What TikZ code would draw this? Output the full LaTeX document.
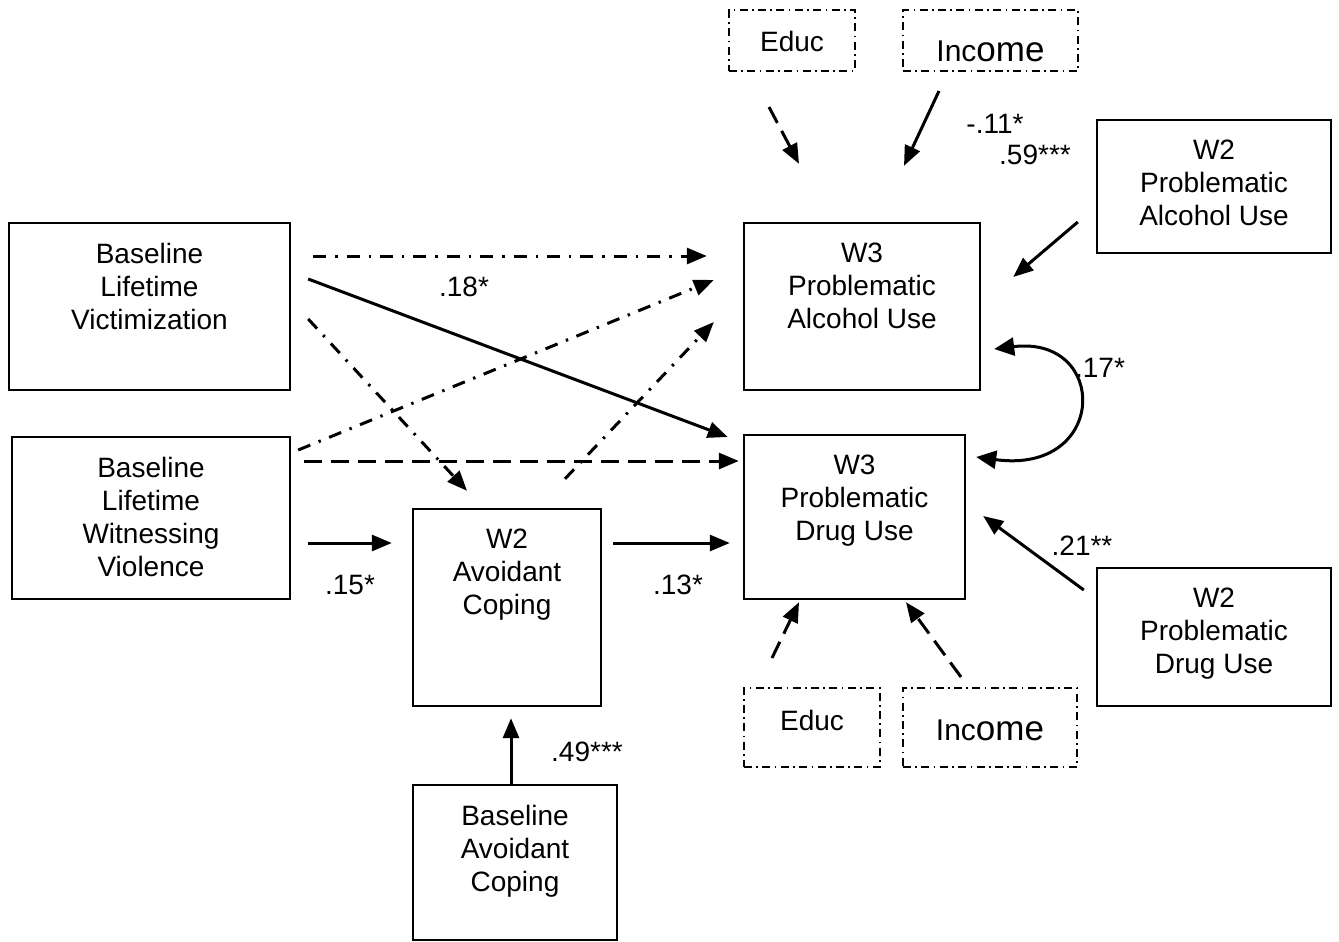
\documentclass[tikz,border=0pt]{standalone}
\usepackage{fontspec}
\setmainfont{Liberation Sans}
\usetikzlibrary{arrows.meta, calc, positioning}

\begin{document}
\begin{tikzpicture}[x=0.5pt, y=-0.5pt, font=\fontsize{14}{16.5}\selectfont]
	
	\tikzset{
		box/.style 2 args={draw, line width=1.2pt,
			minimum width=#1*0.5pt, minimum height=#2*0.5pt,
			inner sep=0pt
		},
		boxtext/.style={anchor=north, align=center, inner sep=0pt, yshift=-10.5pt},
		ctrl/.style 2 args={draw, line width=1pt,
			dash pattern=on 4pt off 2.2pt on 0.8pt off 2.2pt,
			minimum width=#1*0.5pt, minimum height=#2*0.5pt,
			inner sep=0pt
		},
		ctrltext/.style={anchor=center, inner sep=0pt},
		arr/.style={line width=1.5pt, -{Triangle[length=10pt, width=8pt]}},
		arrboth/.style={line width=1.5pt, {Triangle[length=10pt, width=9pt]}-{Triangle[length=10pt, width=9pt]}},
		dashdot/.style={dash pattern=on 6.5pt off 4.5pt on 1.2pt off 4.5pt},
		dashline/.style={dash pattern=on 9pt off 4.5pt}
	}
	
	\useasboundingbox (0,0) rectangle (1339,942);
	
	\node[box={281}{167}, label={[boxtext]north:{Baseline\\Lifetime\\Victimization}}] (vict) at (149.5,306.5) {};
	\node[box={278}{162}, label={[boxtext]north:{Baseline\\Lifetime\\Witnessing\\Violence}}] (witn) at (151,518) {};
	\node[box={188}{197}, label={[boxtext]north:{W2\\Avoidant\\Coping}}] (avoid) at (507,607.5) {};
	\node[box={204}{155}, label={[boxtext]north:{Baseline\\Avoidant\\Coping}}] (bavoid) at (515,862.5) {};
	\node[box={236}{167}, label={[boxtext]north:{W3\\Problematic\\Alcohol Use}}] (alc) at (862,306.5) {};
	\node[box={221}{164}, label={[boxtext]north:{W3\\Problematic\\Drug Use}}] (drug) at (854.5,517) {};
	\node[box={234}{133}, label={[boxtext]north:{W2\\Problematic\\Alcohol Use}}] (walc) at (1214,186.5) {};
	\node[box={234}{138}, label={[boxtext]north:{W2\\Problematic\\Drug Use}}] (wdrug) at (1214,637) {};
	
	\node[ctrl={126}{61}, label={[ctrltext, yshift=-0.5pt]center:Educ}] (educA) at (792,40.5) {};
	\node[ctrl={175}{61}, label={[ctrltext, yshift=-5.5pt]center:{\fontsize{15}{18}\selectfont Inc\fontsize{17.5}{20}\selectfont ome}}] (incA) at (990.5,40.5) {};
	\node[ctrl={136}{79}, label={[ctrltext, yshift=3.5pt]center:Educ}] (educB) at (812,727.5) {};
	\node[ctrl={174}{79}, label={[ctrltext, yshift=-1.5pt]center:{\fontsize{15}{18}\selectfont Inc\fontsize{17.5}{20}\selectfont ome}}] (incB) at (990,727.5) {};
	
	\draw[arr, dashdot] ($(vict.east)+(22,-50.5)$) -- ($(alc.west)+(-36,-50.5)$);
	\draw[arr] ($(vict.east)+(17,-27.5)$) -- ($(drug.west)+(-15,-80)$);
	\draw[arr, dashdot] ($(vict.east)+(17,12.5)$) -- ($(avoid.north)+(-40,-17)$);
	\draw[arr, dashdot] ($(witn.east)+(7,-68)$) -- ($(alc.west)+(-29,-26.5)$);
	\draw[arr, dashline] ($(witn.east)+(13,-57)$) -- ($(drug.west)+(-4,-56)$);
	\draw[arr, dashdot] ($(avoid.north)+(58,-29)$) -- ($(alc.west)+(-29,15.5)$);
	\draw[arr] ($(witn.east)+(17,25)$) -- ($(avoid.west)+(-20,-64.5)$);
	\draw[arr] ($(avoid.east)+(11,-64.5)$) -- ($(drug.west)+(-13,26)$);
	\draw[arr] ($(bavoid.north)+(-4,0)$) -- ($(avoid.south)+(4,11)$);
	
	\draw[arr, dashline] ($(educA.south)+(-23,35)$) -- ($(alc.north)+(-63,-58)$);
	\draw[arr] ($(incA.south)+(-51.5,19)$) -- ($(alc.north)+(42,-56)$);
	\draw[arr] ($(walc.west)+(-18,35.5)$) -- ($(alc.east)+(32,-29.5)$);
	\draw[arrboth] ($(alc.east)+(13,42.5)$) .. controls +(115,-14) and +(132,18) .. ($(drug.east)+(10,-60)$);
	\draw[arr] ($(wdrug.west)+(-12,-47)$) -- ($(drug.east)+(17,-1)$);
	\draw[arr, dashline] ($(educB.north)+(-40,-29)$) -- ($(drug.south)+(-55.5,2)$);
	\draw[arr, dashline] ($(incB.north)+(-29,-10)$) -- ($(drug.south)+(51.5,2)$);
	
	\node (c18) at (464,287) {.18*};
	\node (c15) at (350,585) {.15*};
	\node (c13) at (678,585) {.13*};
	\node (c49) at (587,752) {.49***};
	\node (c11) at (995,124) {-.11*};
	\node (c59) at (1035,155) {.59***};
	\node (c17) at (1100,368) {.17*};
	\node (c21) at (1082,546) {.21**};
	
\end{tikzpicture}
\end{document}
